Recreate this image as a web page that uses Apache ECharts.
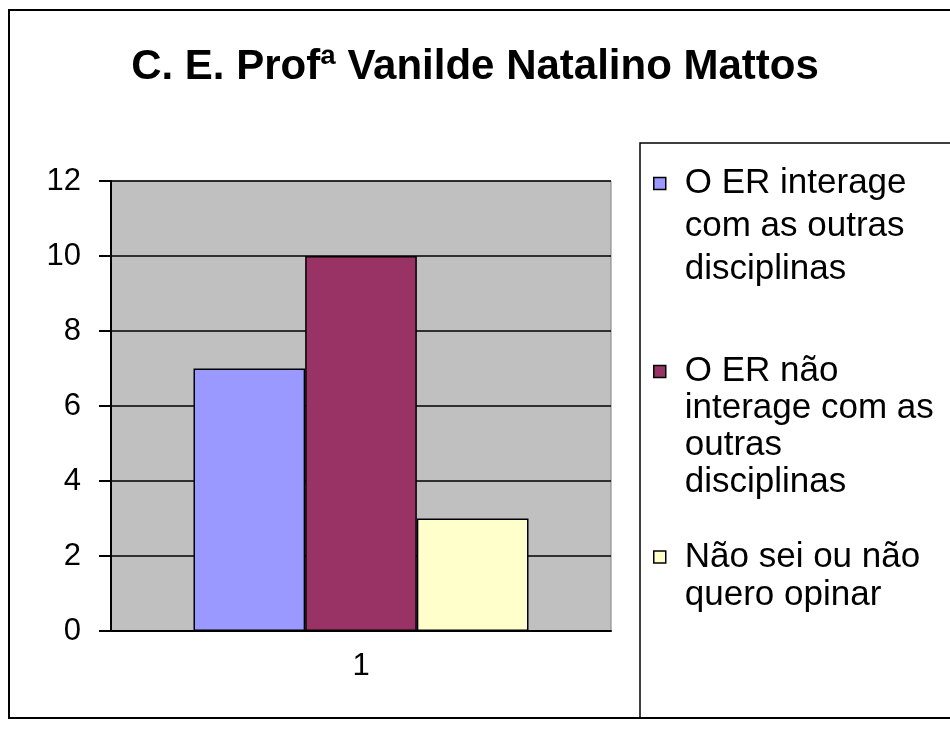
<!DOCTYPE html>
<html>
<head>
    <meta charset="utf-8">
    <title>C. E. Profª Vanilde Natalino Mattos</title>
    <script src="https://cdn.jsdelivr.net/npm/echarts@6/dist/echarts.min.js"></script>
    <style>
        html, body { margin: 0; padding: 0; background: #fff; }
    </style>
</head>
<body>
    <div id="main" style="width: 950px; height: 734px;"></div>
    <script>
        var chartDom = document.getElementById('main');
        var myChart = echarts.init(chartDom);

        // data
        var categories = ['1'];
        var seriesNames = [
            'O ER interage com as outras disciplinas',
            'O ER não interage com as outras disciplinas',
            'Não sei ou não quero opinar'
        ];
        var seriesValues = [7, 10, 3];
        var legendLines = [
            ['O ER interage', 'com as outras', 'disciplinas'],
            ['O ER não', 'interage com as', 'outras', 'disciplinas'],
            ['Não sei ou não', 'quero opinar']
        ];
        var yTicks = [0, 2, 4, 6, 8, 10, 12];

        var colors = ['#9999FF', '#993366', '#FFFFCC'];
        var FONT = '"Liberation Sans", Arial, sans-serif';

        // per legend entry: top and line height
        var legendTops = [76, 242, 500];
        var legendLineHeights = [43, 37, 38];

        var legends = seriesNames.map(function (name, i) {
            var n = legendLines[i].length;
            var lh = legendLineHeights[i];
            // blank lines in front so the marker lines up with the first line
            var blanks = [];
            for (var k = 1; k < n; k++) blanks.push(' ');
            return {
                data: [name],
                orient: 'vertical',
                left: 653,
                top: legendTops[i],
                padding: 0,
                icon: 'rect',
                itemWidth: 12,
                itemHeight: 12,
                itemStyle: { borderColor: '#000', borderWidth: 1.5 },
                formatter: function () {
                    return blanks.concat(legendLines[i]).join('\n');
                },
                textStyle: {
                    fontFamily: FONT,
                    fontSize: 35,
                    color: '#000',
                    lineHeight: lh,
                    padding: [0, 0, 0, 14]
                },
                selectedMode: false
            };
        });

        var option = {
            animation: false,
            backgroundColor: '#fff',
            title: {
                text: 'C. E. Profª Vanilde Natalino Mattos',
                left: 'center',
                top: 41,
                textStyle: {
                    fontFamily: FONT,
                    fontSize: 42,
                    fontWeight: 'bold',
                    color: '#000'
                }
            },
            legend: legends,
            graphic: [
                {
                    type: 'rect',
                    shape: { x: 9, y: 10, width: 960, height: 708 },
                    style: { fill: 'none', stroke: '#000', lineWidth: 2 },
                    z: 100
                },
                {
                    type: 'rect',
                    shape: { x: 640, y: 143, width: 330, height: 575 },
                    style: { fill: 'none', stroke: '#000', lineWidth: 1.5 },
                    z: 100
                }
            ],
            grid: {
                show: true,
                left: 111,
                right: 339,
                top: 181,
                bottom: 103,
                backgroundColor: '#C0C0C0',
                borderColor: '#808080',
                borderWidth: 1
            },
            xAxis: {
                type: 'category',
                data: categories,
                axisLine: { lineStyle: { color: '#000', width: 2 } },
                axisTick: { length: 10, lineStyle: { color: '#000', width: 2 } },
                axisLabel: {
                    margin: 20,
                    fontFamily: FONT,
                    fontSize: 31,
                    color: '#000'
                }
            },
            yAxis: {
                type: 'value',
                min: yTicks[0],
                max: yTicks[yTicks.length - 1],
                interval: 2,
                axisLine: { show: true, lineStyle: { color: '#000', width: 2 } },
                axisTick: { show: true, length: 12, lineStyle: { color: '#000', width: 2 } },
                splitLine: { lineStyle: { color: '#000', width: 1.5 } },
                axisLabel: {
                    margin: 30,
                    fontFamily: FONT,
                    fontSize: 31,
                    color: '#000'
                }
            },
            series: seriesNames.map(function (name, i) {
                return {
                    name: name,
                    type: 'bar',
                    data: [seriesValues[i]],
                    barGap: '0%',
                    barCategoryGap: '33%',
                    itemStyle: {
                        color: colors[i],
                        borderColor: '#000',
                        borderWidth: 1.5
                    }
                };
            })
        };

        myChart.setOption(option);
    </script>
</body>
</html>
